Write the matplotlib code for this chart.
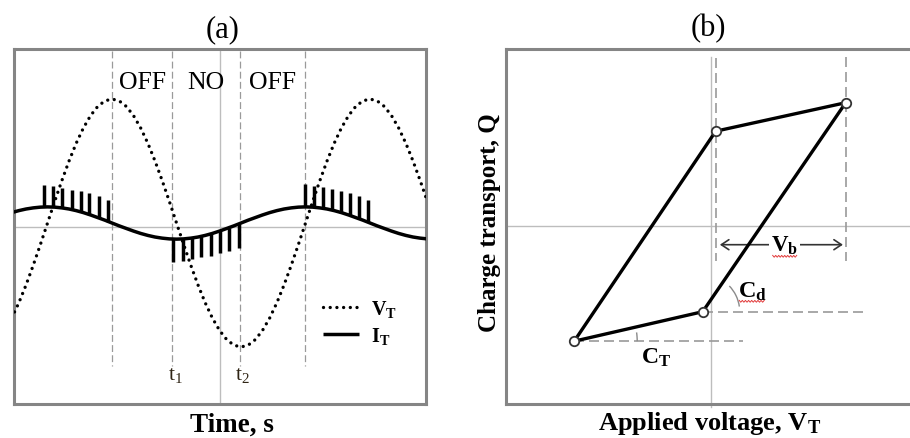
import numpy as np
import matplotlib
matplotlib.use("Agg")
import matplotlib.pyplot as plt
from matplotlib.patches import Arc

plt.rcParams["font.family"] = ["Liberation Serif", "DejaVu Serif"]
plt.rcParams["mathtext.fontset"] = "custom"
plt.rcParams["mathtext.rm"] = "Liberation Serif"
plt.rcParams["mathtext.bf"] = "Liberation Serif:bold"
plt.rcParams["mathtext.it"] = "Liberation Serif:italic"

# ---------------- (a) applied voltage and current vs. time ----------------
# time expressed as phase of the supply voltage, degrees
phase_deg = [-50, -40, -30, -20, -10, 0, 10, 20, 30, 40, 50, 60, 70, 80, 90,
             100, 110, 120, 130, 140, 150, 160, 170, 180, 190, 200, 210, 220,
             230, 240, 250, 260, 270, 280, 290, 300, 310, 320, 330, 340, 350,
             360, 370, 380, 390, 400, 410, 420, 430, 440, 450, 460, 470, 480,
             490, 500, 510, 520, 530]
# applied voltage V_T (normalised)
v_t = [-0.766, -0.643, -0.500, -0.342, -0.174, 0.000, 0.174, 0.342, 0.500,
       0.643, 0.766, 0.866, 0.940, 0.985, 1.000, 0.985, 0.940, 0.866, 0.766,
       0.643, 0.500, 0.342, 0.174, 0.000, -0.174, -0.342, -0.500, -0.643,
       -0.766, -0.866, -0.940, -0.985, -1.000, -0.985, -0.940, -0.866, -0.766,
       -0.643, -0.500, -0.342, -0.174, 0.000, 0.174, 0.342, 0.500, 0.643,
       0.766, 0.866, 0.940, 0.985, 1.000, 0.985, 0.940, 0.866, 0.766, 0.643,
       0.500, 0.342, 0.174]
# displacement current I_T
i_t = [0.084, 0.100, 0.113, 0.122, 0.128, 0.130, 0.128, 0.122, 0.113, 0.100,
       0.084, 0.065, 0.044, 0.023, 0.000, -0.023, -0.044, -0.065, -0.084,
       -0.100, -0.113, -0.122, -0.128, -0.130, -0.128, -0.122, -0.113, -0.100,
       -0.084, -0.065, -0.044, -0.023, 0.000, 0.023, 0.044, 0.065, 0.084,
       0.100, 0.113, 0.122, 0.128, 0.130, 0.128, 0.122, 0.113, 0.100, 0.084,
       0.065, 0.044, 0.023, 0.000, -0.023, -0.044, -0.065, -0.084, -0.100,
       -0.113, -0.122, -0.128]

# discharge current pulses: phase, level where each starts, level of its tip
pulse_phase = [-4.5, 8.1, 20.7, 33.8, 46.3, 58.3, 71.4, 84.8,
               175.5, 188.6, 201.2, 214.2, 227.7, 240.7, 253.7, 266.8,
               359.3, 371.9, 384.0, 396.5, 409.5, 422.1, 434.6, 447.6]
pulse_base = [0.130, 0.129, 0.122, 0.108, 0.090, 0.068, 0.041, 0.012,
              -0.130, -0.128, -0.121, -0.108, -0.087, -0.064, -0.037, -0.007,
              0.130, 0.127, 0.119, 0.104, 0.084, 0.061, 0.035, 0.005]
pulse_tip = [0.306, 0.296, 0.280, 0.269, 0.260, 0.240, 0.215, 0.188,
             -0.317, -0.304, -0.290, -0.274, -0.264, -0.242, -0.223, -0.204,
             0.315, 0.301, 0.288, 0.274, 0.260, 0.240, 0.215, 0.188]

# phases where the discharge switches on / off
switch_phase = [90, 174, 268, 359]
region_labels = ["OFF", "NO", "OFF"]
time_marks = [r"$\mathrm{t}_1$", r"$\mathrm{t}_2$"]

# ---------------- (b) charge-voltage (Q-V) cycle ----------------
# vertices: lower-left, upper-left, upper-right, lower-middle
qv_voltage = [-2.73, 0.10, 2.70, -0.16]
qv_charge = [-2.31, 1.89, 2.46, -1.72]

GRID = "#bdbdbd"
GUIDE = "#9a9a9a"
FRAME = "#858585"

fig = plt.figure(figsize=(9.1, 4.39), dpi=100)
W, H = 910.0, 439.0
axa = fig.add_axes([13.7 / W, (H - 405.3) / H, 412.3 / W, 355.0 / H])
axb = fig.add_axes([505.7 / W, (H - 405.3) / H, 410.0 / W, 355.6 / H])

for ax in (axa, axb):
    ax.set_xticks([])
    ax.set_yticks([])
    for sp in ax.spines.values():
        sp.set_color(FRAME)
        sp.set_linewidth(2.2)
axb.spines["right"].set_visible(False)

# ---- panel (a) ----
axa.set_xlim(-47.2, 528.1)
axa.set_ylim(-1.462, 1.401)
x_mid = sum(axa.get_xlim()) / 2
y_mid = sum(axa.get_ylim()) / 2
axa.axvline(x_mid, color=GRID, lw=1.0, zorder=1)
axa.axhline(y_mid, color=GRID, lw=1.0, zorder=1)

for ph in switch_phase:
    axa.plot([ph, ph], [1.387, -1.153], color=GUIDE, lw=0.9,
             dashes=(5.5, 2.6), zorder=1)

vt_line, = axa.plot(phase_deg, v_t, color="black", lw=2.4,
                    linestyle=(0, (0.01, 2.0)), dash_capstyle="round",
                    zorder=3)
it_line, = axa.plot(phase_deg, i_t, color="black", lw=2.5,
                    solid_capstyle="butt", zorder=4)
axa.vlines(pulse_phase, pulse_base, pulse_tip, color="black", lw=2.5,
           zorder=4)

for k, lab in enumerate(region_labels):
    xc = (switch_phase[k] + switch_phase[k + 1]) / 2
    axa.text(xc, 1.137, lab, ha="center", va="center", fontsize=18.5)

for k, lab in enumerate(time_marks):
    axa.annotate(lab, xy=(switch_phase[k + 1], -1.222),
                 xytext=(2.3, 0), textcoords="offset points",
                 ha="center", va="center", fontsize=15.5, color="#2f2414")

axa.legend(handles=[vt_line, it_line],
           labels=[r"$\mathbf{V}_\mathbf{T}$", r"$\mathbf{I}_\mathbf{T}$"],
           loc="upper left", bbox_to_anchor=((323 - 13.7) / 412.3,
                                             (405.3 - 299) / 355.0),
           frameon=False, fontsize=14.5, handlelength=1.8,
           handletextpad=0.6, labelspacing=0.3, borderpad=0,
           borderaxespad=0)

axa.set_title("(a)", fontsize=22, pad=9.5)
axa.title.set_x(0.5076)
axa.set_xlabel("Time, s", fontsize=19.5, fontweight="bold")
axa.xaxis.set_label_coords(0.5287, -0.0555)
axa.xaxis.label.set_verticalalignment("center")

# ---- panel (b) ----
axb.set_xlim(-4.1, 4.1)
axb.set_ylim(-3.572, 3.540)
axb.axhline(0, color=GRID, lw=1.0, zorder=1)
axb.plot([0, 0], [3.37, -3.63], color=GRID, lw=1.0, zorder=1, clip_on=False)

p1, p4, p3, p2 = list(zip(qv_voltage, qv_charge))
guide_kw = dict(color=GUIDE, lw=1.2, dashes=(6.0, 3.0), zorder=2)
axb.plot([p4[0], p4[0]], [3.35, -0.70], **guide_kw)
axb.plot([p3[0], p3[0]], [3.37, -0.70], **guide_kw)
axb.plot([p2[0], 3.09], [p2[1], p2[1]], **guide_kw)
axb.plot([p1[0], 0.65], [p1[1], p1[1]], **guide_kw)

loop_v = [p1[0], p4[0], p3[0], p2[0], p1[0]]
loop_q = [p1[1], p4[1], p3[1], p2[1], p1[1]]
axb.plot(loop_v, loop_q, color="black", lw=2.4, zorder=4,
         solid_joinstyle="miter")
axb.plot(qv_voltage, qv_charge, "o", ms=6.8, mfc="white", mec="#333333",
         mew=1.3, zorder=5)

# breakdown voltage span
vb_y = -0.38
axb.annotate("", xy=(p3[0], vb_y), xytext=(p4[0], vb_y),
             arrowprops=dict(arrowstyle="<->,head_length=0.45,head_width=0.3",
                             color="#333333", lw=1.2, shrinkA=3, shrinkB=2,
                             mutation_scale=12), zorder=3)
vb_x = 1.48
axb.text(vb_x, vb_y, r"$\mathbf{V}_\mathbf{b}$", ha="center", va="center",
         fontsize=16.5, zorder=4,
         bbox=dict(boxstyle="square,pad=0.08", fc="white", ec="none"))

# capacitance angle marks
axb.add_patch(Arc(p2, 1.48, 1.48, theta1=8, theta2=44, color="#8a8a8a",
                  lw=1.0, zorder=3))
axb.add_patch(Arc(p1, 2.52, 2.52, theta1=0, theta2=8, color="#8a8a8a",
                  lw=1.0, zorder=3))
cd_x, cd_y = 0.83, -1.30
axb.text(cd_x, cd_y, r"$\mathbf{C}_\mathbf{d}$", ha="center", va="center",
         fontsize=17.5)
ct_x, ct_y = -1.10, -2.63
axb.text(ct_x, ct_y, r"$\mathbf{C}_\mathbf{T}$", ha="center", va="center",
         fontsize=17)

# spell-check squiggles under the subscripted symbols
def squiggle(ax, x0, x1, y):
    xs = np.linspace(x0, x1, int((x1 - x0) / 0.03) + 1)
    ys = y + 0.018 * (-1) ** np.arange(len(xs))
    ax.plot(xs, ys, color="#e23b3b", lw=0.7, zorder=4)

squiggle(axb, vb_x - 0.24, vb_x + 0.24, vb_y - 0.232)
squiggle(axb, cd_x - 0.26, cd_x + 0.24, cd_y - 0.212)

axb.set_title("(b)", fontsize=22, pad=9.5)
axb.title.set_x(0.495)
axb.set_xlabel(r"Applied voltage, $\mathbf{V}_\mathbf{T}$", fontsize=19,
               fontweight="bold")
axb.xaxis.set_label_coords(0.498, -0.050)
axb.xaxis.label.set_verticalalignment("center")
axb.set_ylabel("Charge transport, Q", fontsize=18, fontweight="bold")
axb.yaxis.set_label_coords(-0.0400, 0.514)
axb.yaxis.label.set_verticalalignment("center")

fig.savefig("out.png", dpi=100)
